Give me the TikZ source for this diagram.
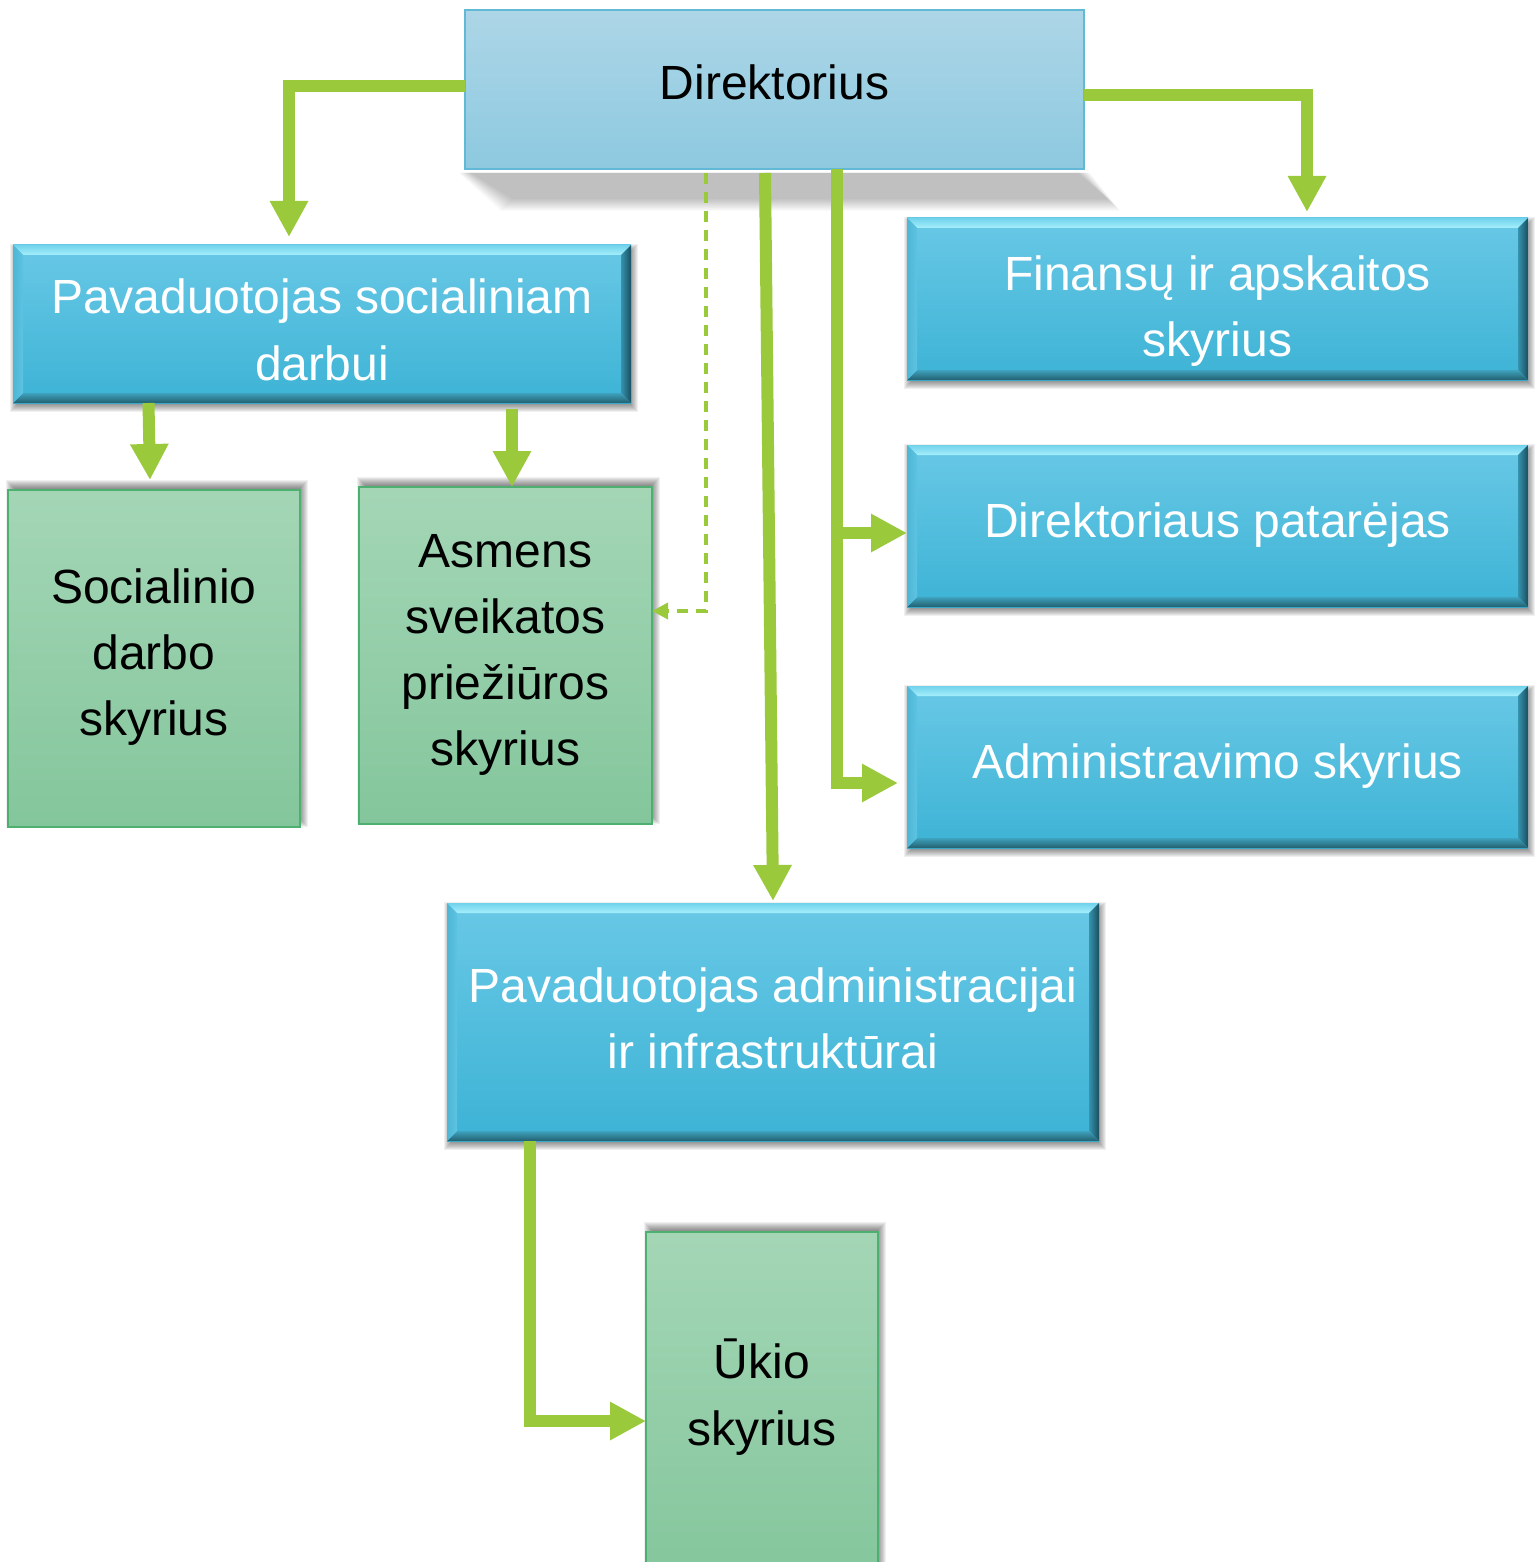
\documentclass[tikz,border=0pt]{standalone}
\usepackage{fontspec}
\setmainfont{Liberation Sans}
\usetikzlibrary{arrows.meta}
\pgfdeclarelayer{bg}
\pgfdeclarelayer{shadowlayer}
\pgfsetlayers{bg,shadowlayer,main}
\definecolor{lgreen}{RGB}{154,202,60}
\definecolor{dirtop}{HTML}{ADD6E7}
\definecolor{dirbot}{HTML}{8DC9E0}
\definecolor{dirline}{HTML}{62B9D5}
\definecolor{bface1}{HTML}{69C8E6}
\definecolor{bface2}{HTML}{3DB3D5}
\definecolor{btop1}{HTML}{70D2EB}
\definecolor{btop2}{HTML}{A6EFFC}
\definecolor{bright1}{HTML}{3593AF}
\definecolor{bright2}{HTML}{1A4F5E}
\definecolor{bbot1}{HTML}{3FA2BE}
\definecolor{bbot2}{HTML}{22606F}
\definecolor{bleft1}{HTML}{4EB5D4}
\definecolor{bleft2}{HTML}{5EC4E2}
\definecolor{gtop}{HTML}{A4D6B6}
\definecolor{gbot}{HTML}{84C69C}
\definecolor{gline}{HTML}{4DAF70}
% soft drop shadow: node, dx, dy (down positive), layer opacity
\newcommand\mysoftshadow[4]{%
  \foreach \r [evaluate=\r as \ax using {#2-(\r)},
               evaluate=\r as \ay using {-(#3)+(\r)},
               evaluate=\r as \bx using {#2+(\r)},
               evaluate=\r as \by using {-(#3)-(\r)}] in {-5,-4,...,5}{%
    \fill[black, opacity=#4] ([shift={(\ax pt,\ay pt)}]#1.north west)
      rectangle ([shift={(\bx pt,\by pt)}]#1.south east);
  }}
\tikzset{
  txt/.style={anchor=base, inner sep=0pt, font=\fontsize{48pt}{58pt}\selectfont},
  wtxt/.style={txt, text=white},
  btxt/.style={txt, text=black},
  dirbox/.style={inner sep=0pt, outer sep=0pt, top color=dirtop, bottom color=dirbot,
    draw=dirline, line width=1.5pt},
  bluebox/.style={inner sep=0pt, outer sep=0pt, top color=bface1, bottom color=bface2,
    path picture={
      \coordinate (bnw) at (path picture bounding box.north west);
      \coordinate (bne) at (path picture bounding box.north east);
      \coordinate (bse) at (path picture bounding box.south east);
      \coordinate (bsw) at (path picture bounding box.south west);
      \path[top color=btop1, bottom color=btop2] (bnw) -- (bne) -- ([shift={(-10pt,-10pt)}]bne) -- ([shift={(10pt,-10pt)}]bnw) -- cycle;
      \path[left color=bright1, right color=bright2] (bne) -- (bse) -- ([shift={(-10pt,10pt)}]bse) -- ([shift={(-10pt,-10pt)}]bne) -- cycle;
      \path[top color=bbot1, bottom color=bbot2] (bse) -- (bsw) -- ([shift={(10pt,10pt)}]bsw) -- ([shift={(-10pt,10pt)}]bse) -- cycle;
      \path[left color=bleft1, right color=bleft2] (bsw) -- (bnw) -- ([shift={(10pt,-10pt)}]bnw) -- ([shift={(10pt,10pt)}]bsw) -- cycle;
    }},
  greenbox/.style={inner sep=0pt, outer sep=0pt, top color=gtop, bottom color=gbot,
    draw=gline, line width=1.5pt},
  conn/.style={draw=lgreen, line width=12pt, line join=miter, line cap=butt,
    -{Triangle[length=36pt,width=36pt]}},
  dconn/.style={draw=lgreen, line width=3.5pt, line join=miter, dash pattern=on 11pt off 8pt,
    -{Triangle[length=16pt,width=16pt]}},
}
\begin{document}
\begin{tikzpicture}[x=1pt,y=-1pt]
\clip (0,0) rectangle (1538,1562);
\begin{pgfonlayer}{bg}
\fill[white] (0,0) rectangle (1538,1562);
\end{pgfonlayer}

% boxes
\node[dirbox, minimum width=619pt, minimum height=159pt] (dir) at (774.5,89.5) {};
\node[bluebox, minimum width=618pt, minimum height=158pt] (psoc) at (322,324) {};
\node[bluebox, minimum width=621pt, minimum height=162pt] (fin) at (1217.5,299) {};
\node[bluebox, minimum width=621pt, minimum height=162pt] (pat) at (1217.5,526) {};
\node[bluebox, minimum width=621pt, minimum height=162pt] (adm) at (1217.5,767) {};
\node[bluebox, minimum width=652pt, minimum height=238pt] (padm) at (773,1022) {};
\node[greenbox, minimum width=292pt, minimum height=337pt] (soc) at (154,658.5) {};
\node[greenbox, minimum width=293pt, minimum height=337pt] (asm) at (505.5,655.5) {};
\node[greenbox, minimum width=232pt, minimum height=348pt] (uk) at (762,1406) {};

% shadows
\begin{pgfonlayer}{shadowlayer}
  \foreach \r in {-6,-5,...,6}{%
    \fill[black, opacity=0.02] ([shift={(-\r pt,-4pt)}]dir.south west) --
      ([shift={(\r pt,-4pt)}]dir.south east) --
      ([shift={(30pt+\r pt,-36pt-\r pt)}]dir.south east) --
      ([shift={(42pt-\r pt,-36pt-\r pt)}]dir.south west) -- cycle;
  }
  \mysoftshadow{psoc}{2}{4}{0.06}
  \mysoftshadow{fin}{2}{4}{0.06}
  \mysoftshadow{pat}{2}{4}{0.06}
  \mysoftshadow{adm}{2}{4}{0.06}
  \mysoftshadow{padm}{2}{4}{0.06}
  \mysoftshadow{soc}{3}{-5}{0.06}
  \mysoftshadow{asm}{3}{-5}{0.06}
  \mysoftshadow{uk}{3}{-5}{0.06}
\end{pgfonlayer}

% texts
\node[btxt] (tdir) at (774.5,100) {Direktorius};
\node[wtxt] (tpsoc1) at (322,313) {Pavaduotojas socialiniam};
\node[wtxt] (tpsoc2) at (322,380) {darbui};
\node[wtxt] (tfin1) at (1217.5,290) {Finansų ir apskaitos};
\node[wtxt] (tfin2) at (1217.5,356) {skyrius};
\node[wtxt] (tpat) at (1217.5,537) {Direktoriaus patarėjas};
\node[wtxt] (tadm) at (1217.5,778) {Administravimo skyrius};
\node[wtxt] (tpadm1) at (773,1002) {Pavaduotojas administracijai};
\node[wtxt] (tpadm2) at (773,1068) {ir infrastruktūrai};
\node[btxt] (tsoc1) at (154,603) {Socialinio};
\node[btxt] (tsoc2) at (154,669) {darbo};
\node[btxt] (tsoc3) at (154,735) {skyrius};
\node[btxt] (tasm1) at (505.5,567) {Asmens};
\node[btxt] (tasm2) at (505.5,633) {sveikatos};
\node[btxt] (tasm3) at (505.5,699) {priežiūros};
\node[btxt] (tasm4) at (505.5,765) {skyrius};
\node[btxt] (tuk1) at (762,1378) {Ūkio};
\node[btxt] (tuk2) at (762,1445) {skyrius};

% connectors
\draw[conn] ([yshift=3.5pt]dir.west) -| ([xshift=-33pt,yshift=8pt]psoc.north);
\draw[conn] ([yshift=-5.5pt]dir.east) -| ([xshift=89.5pt,yshift=6pt]fin.north);
\draw[dconn] ([xshift=-68.5pt,yshift=-4pt]dir.south) |- ([yshift=44.5pt]asm.east);
\draw[conn] ([xshift=-9.5pt,yshift=-4pt]dir.south) -- ([yshift=2pt]padm.north);
\coordinate (trunk) at ([xshift=62.5pt]dir.south);
\coordinate (patin) at ([yshift=-7pt]pat.west);
\coordinate (admin) at ([xshift=-9pt,yshift=-16pt]adm.west);
\draw[conn] (trunk) |- (admin);
\draw[conn] (trunk |- patin) -- (patin);
\draw[conn] ([xshift=-173.5pt]psoc.south) -- ([xshift=-4pt,yshift=10pt]soc.north);
\draw[conn] ([xshift=190pt,yshift=-6pt]psoc.south) -- ([xshift=6.5pt]asm.north);
\draw[conn] ([xshift=-243.5pt]padm.south) |- ([yshift=-15pt]uk.west);
\end{tikzpicture}
\end{document}
